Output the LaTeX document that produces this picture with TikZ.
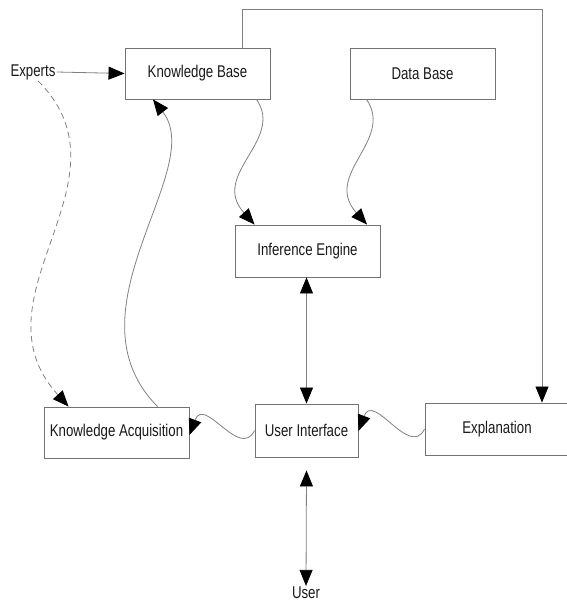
\documentclass[tikz,border=0pt]{standalone}
\usepackage{fontspec}
\setmainfont{Liberation Sans}[FakeStretch=0.78]
\usetikzlibrary{arrows.meta}
\begin{document}
\begin{tikzpicture}[x=1pt,y=-1pt,
  box/.style={draw=black!55, line width=0.9pt, inner sep=0pt, minimum width=145pt, minimum height=51pt, font=\fontsize{17}{20}\selectfont, text=black!90},
  lbl/.style={inner sep=1pt, font=\fontsize{17}{20}\selectfont, text=black!90},
  conn/.style={draw=black!50, line width=0.8pt, -{Triangle[length=16pt,width=13pt,color=black]}},
  both/.style={draw=black!50, line width=0.8pt, {Triangle[length=16pt,width=13pt,color=black]}-{Triangle[length=16pt,width=13pt,color=black]}}
]
\useasboundingbox (0,0) rectangle (566,605);

% boxes
\node[box] (kb) at (197.5,73.5) {Knowledge Base};
\node[box] (db) at (422.5,73.5) {Data Base};
\node[box, minimum height=52pt] (ie) at (307.5,251) {Inference Engine};
\node[box] (ka) at (116.5,432.5) {Knowledge Acquisition};
\node[box, minimum width=103pt, minimum height=53pt] (ui) at (306.5,430.5) {User Interface};
\node[box, minimum width=144pt, minimum height=52pt] (ex) at (497,429) {Explanation};

% free labels
\node[lbl] (experts) at (33,72) {Experts};
\node[lbl] (user) at (306,593) {User};

% straight links
\draw[conn] (experts.east) -- (kb.west);
\draw[conn] ([xshift=44.5pt]kb.north) |- ++(0,-38) -| ([xshift=45pt]ex.north);
\draw[both] (ie.south -| ui.north) -- (ui.north);
\draw[both] ([yshift=-13pt]ui.south) -- (user.north);

% curved links
\draw[conn] ([xshift=132pt]kb.south west) .. controls +(28,41) and +(-45,-50) .. ([xshift=20pt]ie.north west);
\draw[conn] ([xshift=17pt]db.south west) .. controls +(28,41) and +(-45,-50) .. ([xshift=59.5pt]ie.north);
\draw[conn] ([xshift=114pt]ka.north west) .. controls +(-95,-96) and +(55,70) .. ([xshift=-44.5pt]kb.south);
\draw[conn, dashed, dash pattern=on 6pt off 4pt] ([xshift=5pt]experts.south) .. controls +(100,100) and +(-100,-110) .. ([xshift=25pt]ka.north west);
\draw[conn] (ui.west) .. controls +(-15,30) and +(15,-40) .. ([yshift=-2.5pt]ka.east);
\draw[conn] (ex.west) .. controls +(-15,30) and +(15,-40) .. ([yshift=-0.5pt]ui.east);
\end{tikzpicture}
\end{document}
